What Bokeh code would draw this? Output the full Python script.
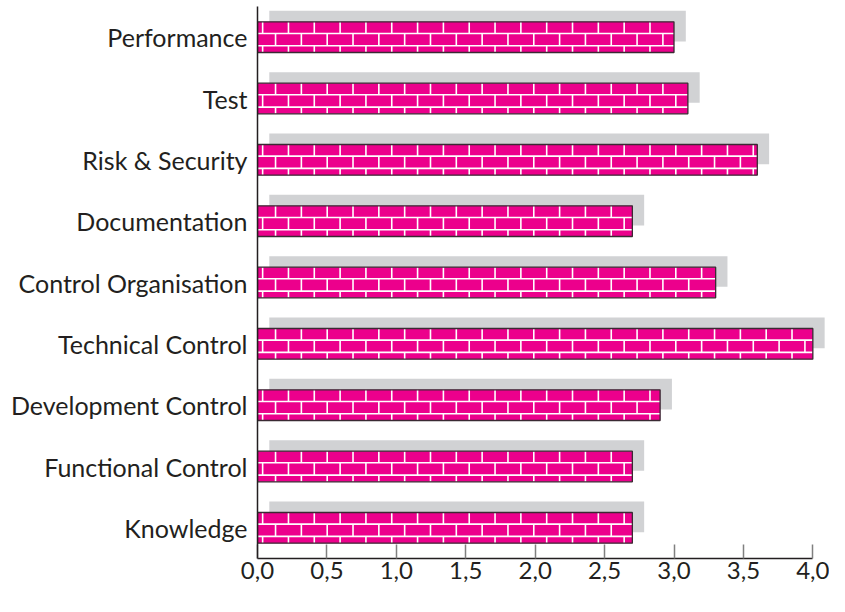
import math
from bokeh.plotting import figure
from bokeh.models import FixedTicker, Range1d
from bokeh.embed import file_html
from bokeh.resources import INLINE

# ---- data ----
categories = ["Knowledge", "Functional Control", "Development Control",
              "Technical Control", "Control Organisation", "Documentation",
              "Risk & Security", "Test", "Performance"]
scores = [2.7, 2.7, 2.9, 4.0, 3.3, 2.7, 3.6, 3.1, 3.0]
x_ticks = [0.0, 0.5, 1.0, 1.5, 2.0, 2.5, 3.0, 3.5, 4.0]
x_tick_labels = ["0,0", "0,5", "1,0", "1,5", "2,0", "2,5", "3,0", "3,5", "4,0"]

# ---- style ----
FONT = "Lato"
TEXT = "#231F20"
MAGENTA = "#EC008C"
SHADOW = "#D1D2D4"
BAR_H = 0.5
SH_DX, SH_DY = 0.085, 0.18
ROW_H, BRICK_W = 0.2, 0.186
PH_X, PH_Y = 0.037, 0.06

ys = list(range(len(categories)))

p = figure(width=829, height=596, output_backend="svg", toolbar_location=None,
           x_range=Range1d(0, 4.12), y_range=Range1d(-0.5, 8.5),
           min_border_left=257, min_border_right=0, min_border_top=6,
           min_border_bottom=38)
p.outline_line_color = None
p.grid.visible = False
p.background_fill_color = "white"
p.border_fill_color = "white"

# shadows
p.hbar(y=[y + SH_DY for y in ys], left=SH_DX, right=[v + SH_DX for v in scores],
       height=BAR_H, fill_color=SHADOW, line_color=None)
# bars
p.hbar(y=ys, left=0, right=scores, height=BAR_H, fill_color=MAGENTA, line_color=None)

# brick lines
hx0, hy0, hx1, hy1 = [], [], [], []
for y, v in zip(ys, scores):
    y0, y1 = y - BAR_H / 2, y + BAR_H / 2
    kmin = math.ceil((y0 - PH_Y) / ROW_H)
    kmax = math.floor((y1 - PH_Y) / ROW_H)
    bounds = []
    for k in range(kmin, kmax + 1):
        b = PH_Y + k * ROW_H
        if y0 < b < y1:
            bounds.append(b)
            hx0.append(0); hx1.append(v); hy0.append(b); hy1.append(b)
    edges = [y0] + bounds + [y1]
    for ra, rb in zip(edges[:-1], edges[1:]):
        k = math.floor((ra - PH_Y) / ROW_H + 1e-9)
        off = PH_X + (k % 2) * BRICK_W / 2
        x = off
        while x < v - 0.01:
            hx0.append(x); hx1.append(x); hy0.append(ra); hy1.append(rb)
            x += BRICK_W
p.segment(x0=hx0, y0=hy0, x1=hx1, y1=hy1, line_color="white", line_width=1.6)

# bar outlines
p.hbar(y=ys, left=0, right=scores, height=BAR_H, fill_color=None,
       line_color="#3A2A33", line_width=1.3)

# axes
xa = p.xaxis[0]
xa.ticker = FixedTicker(ticks=x_ticks)
xa.major_label_overrides = {t: l for t, l in zip(x_ticks, x_tick_labels)}
xa.bounds = (0, 4)
xa.major_tick_in = 14
xa.major_tick_out = 0
xa.minor_tick_line_color = None
xa.major_tick_line_color = "#808080"
xa.major_tick_line_width = 1.5
xa.axis_line_color = TEXT
xa.axis_line_width = 1.5
xa.major_label_text_font = FONT
xa.major_label_text_font_size = "24px"
xa.major_label_text_color = TEXT
xa.major_label_standoff = 3

ya = p.yaxis[0]
ya.ticker = FixedTicker(ticks=ys)
ya.major_label_overrides = {y: c for y, c in zip(ys, categories)}
ya.major_tick_in = 0
ya.major_tick_out = 0
ya.minor_tick_line_color = None
ya.axis_line_color = TEXT
ya.axis_line_width = 1.5
ya.major_label_text_font = FONT
ya.major_label_text_font_size = "25px"
ya.major_label_text_color = TEXT
ya.major_label_standoff = 10

open("out.html", "w").write(file_html(p, INLINE))
